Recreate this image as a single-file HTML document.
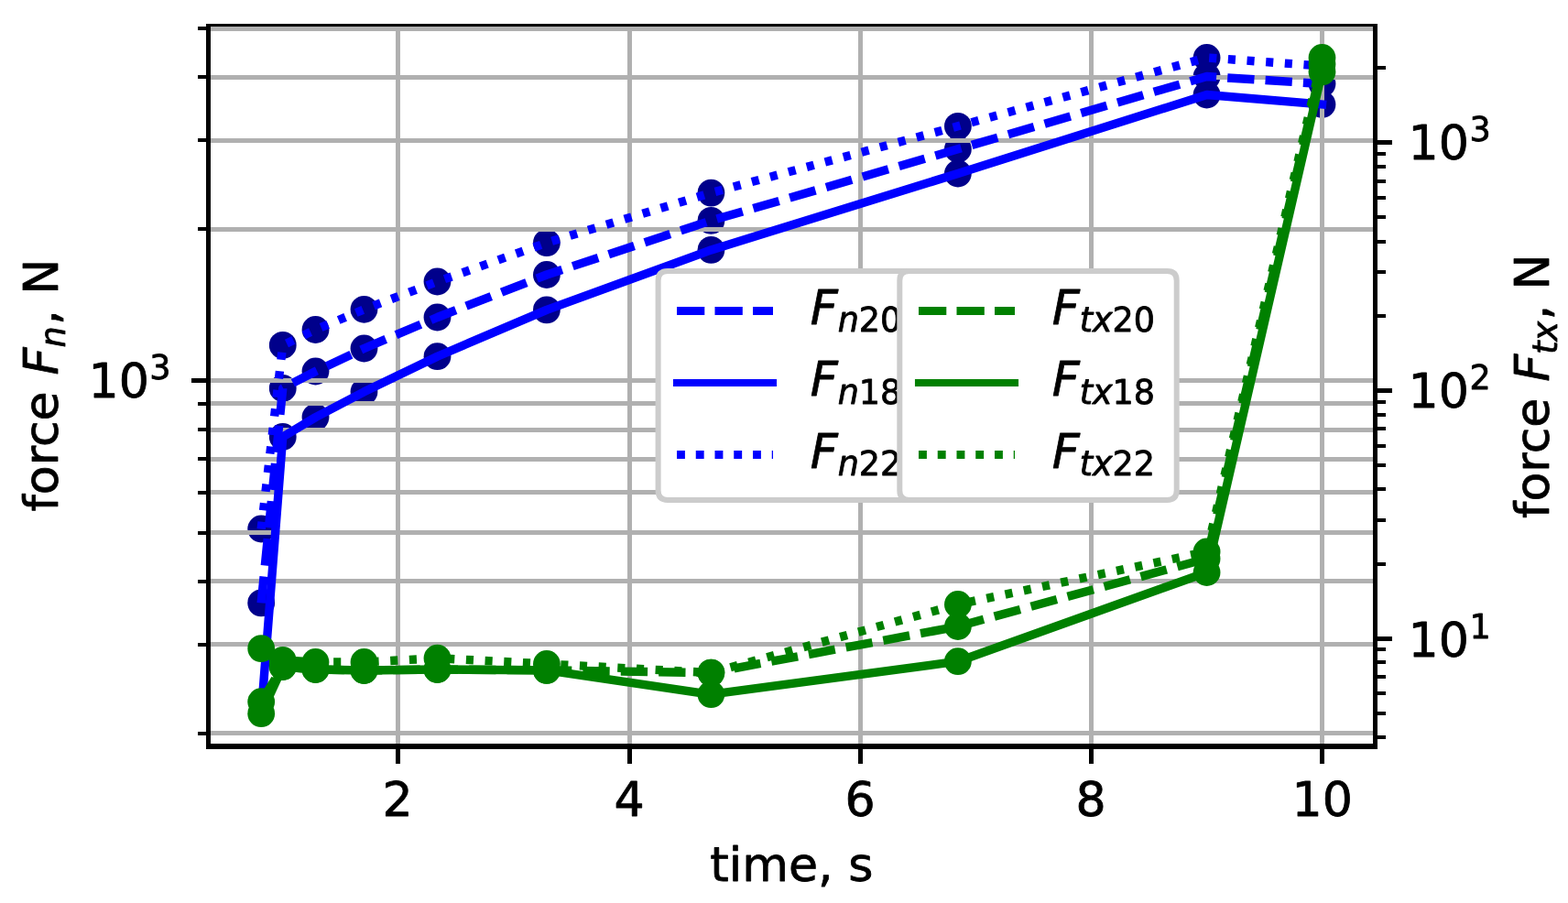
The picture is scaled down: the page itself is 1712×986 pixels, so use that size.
<!DOCTYPE html>
<html lang="en"><head><meta charset="utf-8"><title>force vs time</title>
<style>html,body{margin:0;padding:0;background:#fff;}body{width:1712px;height:986px;overflow:hidden;}svg{display:block;}</style>
</head><body>
<svg width="1712" height="986" viewBox="0 0 1712 986" role="img" aria-label="force versus time chart" font-family="'DejaVu Sans', 'Liberation Sans', sans-serif" font-size="52.15">
<defs><clipPath id="axclip"><rect x="227.5" y="28.5" width="1274" height="786.5"/></clipPath></defs>
<rect width="1712" height="986" fill="#ffffff"/>
<g clip-path="url(#axclip)">
<g fill="#00008b"><circle cx="285.20" cy="658.40" r="14.9"/><circle cx="308.75" cy="423.90" r="14.9"/><circle cx="344.50" cy="405.50" r="14.9"/><circle cx="397.50" cy="380.50" r="14.9"/><circle cx="477.50" cy="346.50" r="14.9"/><circle cx="596.90" cy="300.00" r="14.9"/><circle cx="776.40" cy="240.90" r="14.9"/><circle cx="1045.90" cy="162.80" r="14.9"/><circle cx="1317.60" cy="83.50" r="14.9"/><circle cx="1443.50" cy="91.50" r="14.9"/></g>
<g fill="#00008b"><circle cx="285.20" cy="779.20" r="14.0"/><circle cx="308.75" cy="477.00" r="14.9"/><circle cx="344.50" cy="455.60" r="14.9"/><circle cx="397.50" cy="427.80" r="14.9"/><circle cx="477.50" cy="389.20" r="14.9"/><circle cx="596.90" cy="338.40" r="14.9"/><circle cx="776.40" cy="272.90" r="14.9"/><circle cx="1045.90" cy="189.50" r="14.9"/><circle cx="1317.60" cy="103.50" r="14.9"/><circle cx="1443.50" cy="114.00" r="14.9"/></g>
<g fill="#00008b"><circle cx="285.20" cy="577.50" r="14.9"/><circle cx="308.75" cy="376.90" r="14.9"/><circle cx="344.50" cy="360.00" r="14.9"/><circle cx="397.50" cy="337.80" r="14.9"/><circle cx="477.50" cy="307.50" r="14.9"/><circle cx="596.90" cy="265.10" r="14.9"/><circle cx="776.40" cy="210.60" r="14.9"/><circle cx="1045.90" cy="137.80" r="14.9"/><circle cx="1317.60" cy="63.00" r="14.9"/><circle cx="1443.50" cy="72.00" r="14.0"/></g>
<g fill="#b0b0b0" shape-rendering="crispEdges">
<rect x="432" y="28.5" width="5" height="786.5"/>
<rect x="685" y="28.5" width="5" height="786.5"/>
<rect x="937" y="28.5" width="5" height="786.5"/>
<rect x="1189" y="28.5" width="5" height="786.5"/>
<rect x="1441" y="28.5" width="5" height="786.5"/>
<rect x="227.5" y="798" width="1274.0" height="5"/>
<rect x="227.5" y="701" width="1274.0" height="5"/>
<rect x="227.5" y="632" width="1274.0" height="5"/>
<rect x="227.5" y="579" width="1274.0" height="5"/>
<rect x="227.5" y="535" width="1274.0" height="5"/>
<rect x="227.5" y="499" width="1274.0" height="5"/>
<rect x="227.5" y="467" width="1274.0" height="5"/>
<rect x="227.5" y="438" width="1274.0" height="5"/>
<rect x="227.5" y="413" width="1274.0" height="5"/>
<rect x="227.5" y="248" width="1274.0" height="5"/>
<rect x="227.5" y="151" width="1274.0" height="5"/>
<rect x="227.5" y="82" width="1274.0" height="5"/>
<rect x="227.5" y="29" width="1274.0" height="5"/>
</g>
<polyline points="285.20,658.40 308.75,423.90 344.50,405.50 397.50,380.50 477.50,346.50 596.90,300.00 776.40,240.90 1045.90,162.80 1317.60,83.50 1443.50,91.50" fill="none" stroke="#0000ff" stroke-width="9.4" stroke-linejoin="round" stroke-dasharray="29.31,12.10" stroke-dashoffset="0.3" stroke-linecap="butt"/>
<polyline points="285.20,779.20 308.75,477.00 344.50,455.60 397.50,427.80 477.50,389.20 596.90,338.40 776.40,272.90 1045.90,189.50 1317.60,103.50 1443.50,114.00" fill="none" stroke="#0000ff" stroke-width="9.4" stroke-linejoin="round" stroke-linecap="square"/>
<polyline points="285.20,577.50 308.75,376.90 344.50,360.00 397.50,337.80 477.50,307.50 596.90,265.10 776.40,210.60 1045.90,137.80 1317.60,63.00 1443.50,72.00" fill="none" stroke="#0000ff" stroke-width="9.4" stroke-linejoin="round" stroke-dasharray="8.11,12.59" stroke-dashoffset="0.3" stroke-linecap="butt"/>
</g>
<path d="M729.00,296.1 L999.60,296.1 Q1010.0,296.1 1010.0,306.50 L1010.0,535.50 Q1010.0,545.9 999.60,545.9 L729.00,545.9 Q718.6,545.9 718.6,535.50 L718.6,306.50 Q718.6,296.1 729.00,296.1 Z" fill="#ffffff" stroke="#cccccc" stroke-width="6.0" stroke-linejoin="miter"/>
<line x1="739.0" y1="339.4" x2="844.0" y2="339.4" stroke="#0000ff" stroke-width="9.0" stroke-dasharray="30.3,11.2"/>
<polyline points="739.00,418.00 844.00,418.00" fill="none" stroke="#0000ff" stroke-width="8.1" stroke-linejoin="round" stroke-linecap="square"/>
<line x1="739.0" y1="496.5" x2="844.0" y2="496.5" stroke="#0000ff" stroke-width="9.0" stroke-dasharray="8.9,11.85"/>
<g fill="#000000" stroke="#000000" stroke-width="0.8" stroke-linejoin="round">
<text transform="translate(884.70,353.50)"><tspan x="0.00" y="0.00" font-style="italic">F</tspan><tspan x="30.00" y="8.56" font-size="36.50" font-style="italic">n</tspan><tspan x="53.13" y="8.56" font-size="36.50">20</tspan></text>
<text transform="translate(884.70,432.10)"><tspan x="0.00" y="0.00" font-style="italic">F</tspan><tspan x="30.00" y="8.56" font-size="36.50" font-style="italic">n</tspan><tspan x="53.13" y="8.56" font-size="36.50">18</tspan></text>
<text transform="translate(884.70,510.60)"><tspan x="0.00" y="0.00" font-style="italic">F</tspan><tspan x="30.00" y="8.56" font-size="36.50" font-style="italic">n</tspan><tspan x="53.13" y="8.56" font-size="36.50">22</tspan></text>
</g>
<g clip-path="url(#axclip)">
<g fill="#008000"><circle cx="285.20" cy="766.25" r="14.9"/><circle cx="308.75" cy="728.00" r="14.9"/><circle cx="344.50" cy="731.00" r="14.9"/><circle cx="397.50" cy="732.00" r="14.9"/><circle cx="477.50" cy="731.00" r="14.9"/><circle cx="596.90" cy="731.90" r="14.9"/><circle cx="776.40" cy="734.60" r="14.9"/><circle cx="1045.90" cy="684.00" r="14.9"/><circle cx="1317.60" cy="610.00" r="14.9"/><circle cx="1443.50" cy="70.00" r="14.9"/></g>
<g fill="#008000"><circle cx="285.20" cy="779.20" r="14.9"/><circle cx="308.75" cy="728.00" r="14.9"/><circle cx="344.50" cy="731.00" r="14.9"/><circle cx="397.50" cy="732.00" r="14.9"/><circle cx="477.50" cy="731.00" r="14.9"/><circle cx="596.90" cy="731.90" r="14.9"/><circle cx="776.40" cy="758.20" r="14.9"/><circle cx="1045.90" cy="722.20" r="14.9"/><circle cx="1317.60" cy="625.00" r="14.9"/><circle cx="1443.50" cy="78.40" r="14.9"/></g>
<g fill="#008000"><circle cx="285.20" cy="708.10" r="14.9"/><circle cx="308.75" cy="721.00" r="14.9"/><circle cx="344.50" cy="723.00" r="14.9"/><circle cx="397.50" cy="723.00" r="14.9"/><circle cx="477.50" cy="718.75" r="14.9"/><circle cx="596.90" cy="725.00" r="14.9"/><circle cx="776.40" cy="734.60" r="14.9"/><circle cx="1045.90" cy="660.00" r="14.9"/><circle cx="1317.60" cy="602.50" r="14.9"/><circle cx="1443.50" cy="63.00" r="14.9"/></g>
<polyline points="285.20,766.25 308.75,728.00 344.50,731.00 397.50,732.00 477.50,731.00 596.90,731.90 776.40,734.60 1045.90,684.00 1317.60,610.00 1443.50,70.00" fill="none" stroke="#008000" stroke-width="9.4" stroke-linejoin="round" stroke-dasharray="29.31,12.10" stroke-dashoffset="0.0" stroke-linecap="butt"/>
<polyline points="285.20,779.20 308.75,728.00 344.50,731.00 397.50,732.00 477.50,731.00 596.90,731.90 776.40,758.20 1045.90,722.20 1317.60,625.00 1443.50,78.40" fill="none" stroke="#008000" stroke-width="9.4" stroke-linejoin="round" stroke-linecap="square"/>
<polyline points="285.20,708.10 308.75,721.00 344.50,723.00 397.50,723.00 477.50,718.75 596.90,725.00 776.40,734.60 1045.90,660.00 1317.60,602.50 1443.50,63.00" fill="none" stroke="#008000" stroke-width="9.4" stroke-linejoin="round" stroke-dasharray="8.11,12.59" stroke-dashoffset="0.5" stroke-linecap="butt"/>
</g>
<g fill="#000000" shape-rendering="crispEdges">
<rect x="225" y="26" width="5" height="792"/>
<rect x="1499" y="26" width="5" height="792"/>
<rect x="225" y="26" width="1279" height="3"/>
<rect x="225" y="812" width="1279" height="6"/>
<rect x="432" y="815" width="5" height="19"/>
<rect x="685" y="815" width="5" height="19"/>
<rect x="937" y="815" width="5" height="19"/>
<rect x="1189" y="815" width="5" height="19"/>
<rect x="1441" y="815" width="5" height="19"/>
<rect x="216" y="799" width="10" height="4"/>
<rect x="216" y="702" width="10" height="4"/>
<rect x="216" y="633" width="10" height="4"/>
<rect x="216" y="580" width="10" height="4"/>
<rect x="216" y="536" width="10" height="4"/>
<rect x="216" y="499" width="10" height="4"/>
<rect x="216" y="467" width="10" height="4"/>
<rect x="216" y="439" width="10" height="4"/>
<rect x="216" y="248" width="10" height="4"/>
<rect x="216" y="151" width="10" height="4"/>
<rect x="216" y="82" width="10" height="4"/>
<rect x="216" y="29" width="10" height="4"/>
<rect x="209" y="413" width="17" height="5"/>
<rect x="1503" y="803" width="10" height="4"/>
<rect x="1503" y="777" width="10" height="4"/>
<rect x="1503" y="755" width="10" height="4"/>
<rect x="1503" y="737" width="10" height="4"/>
<rect x="1503" y="721" width="10" height="4"/>
<rect x="1503" y="707" width="10" height="4"/>
<rect x="1503" y="695" width="17" height="5"/>
<rect x="1503" y="614" width="10" height="4"/>
<rect x="1503" y="566" width="10" height="4"/>
<rect x="1503" y="532" width="10" height="4"/>
<rect x="1503" y="506" width="10" height="4"/>
<rect x="1503" y="485" width="10" height="4"/>
<rect x="1503" y="466" width="10" height="4"/>
<rect x="1503" y="451" width="10" height="4"/>
<rect x="1503" y="437" width="10" height="4"/>
<rect x="1503" y="424" width="17" height="5"/>
<rect x="1503" y="343" width="10" height="4"/>
<rect x="1503" y="295" width="10" height="4"/>
<rect x="1503" y="262" width="10" height="4"/>
<rect x="1503" y="235" width="10" height="4"/>
<rect x="1503" y="214" width="10" height="4"/>
<rect x="1503" y="196" width="10" height="4"/>
<rect x="1503" y="180" width="10" height="4"/>
<rect x="1503" y="166" width="10" height="4"/>
<rect x="1503" y="153" width="17" height="5"/>
<rect x="1503" y="72" width="10" height="4"/>
</g>
<path d="M992.70,296.1 L1274.30,296.1 Q1284.7,296.1 1284.7,306.50 L1284.7,535.50 Q1284.7,545.9 1274.30,545.9 L992.70,545.9 Q982.3,545.9 982.3,535.50 L982.3,306.50 Q982.3,296.1 992.70,296.1 Z" fill="#ffffff" stroke="#cccccc" stroke-width="6.0" stroke-linejoin="miter"/>
<line x1="1003.0" y1="339.4" x2="1108.0" y2="339.4" stroke="#008000" stroke-width="9.0" stroke-dasharray="30.3,11.2"/>
<polyline points="1003.00,418.00 1108.00,418.00" fill="none" stroke="#008000" stroke-width="8.1" stroke-linejoin="round" stroke-linecap="square"/>
<line x1="1003.0" y1="496.5" x2="1108.0" y2="496.5" stroke="#008000" stroke-width="9.0" stroke-dasharray="8.9,11.85"/>
<g fill="#000000" stroke="#000000" stroke-width="0.8" stroke-linejoin="round">
<text x="434.00" y="891" text-anchor="middle">2</text>
<text x="687.00" y="891" text-anchor="middle">4</text>
<text x="939.00" y="891" text-anchor="middle">6</text>
<text x="1191.00" y="891" text-anchor="middle">8</text>
<text x="1443.80" y="891" text-anchor="middle">10</text>
<text x="864.3" y="961.6" text-anchor="middle">time, s</text>
<text transform="translate(96.50,434.20)"><tspan x="0.00" y="0.00">10</tspan><tspan x="66.86" y="-19.96" font-size="36.50">3</tspan></text>
<text transform="translate(1537.60,173.90)"><tspan x="0.00" y="0.00">10</tspan><tspan x="66.86" y="-19.96" font-size="36.50">3</tspan></text>
<text transform="translate(1537.60,444.90)"><tspan x="0.00" y="0.00">10</tspan><tspan x="66.86" y="-19.96" font-size="36.50">2</tspan></text>
<text transform="translate(1537.60,716.70)"><tspan x="0.00" y="0.00">10</tspan><tspan x="66.86" y="-19.96" font-size="36.50">1</tspan></text>
<text transform="translate(62.80,558.60) rotate(-90)"><tspan x="0.00" y="0.00">force </tspan><tspan x="149.04" y="0.00" font-style="italic">F</tspan><tspan x="179.04" y="8.56" font-size="36.50" font-style="italic">n</tspan><tspan x="203.60" y="0.00">, N</tspan></text>
<text transform="translate(1691.20,565.90) rotate(-90)"><tspan x="0.00" y="0.00">force </tspan><tspan x="149.04" y="0.00" font-style="italic">F</tspan><tspan x="179.04" y="8.56" font-size="36.50" font-style="italic">tx</tspan><tspan x="216.38" y="0.00">, N</tspan></text>
<text transform="translate(1148.70,353.50)"><tspan x="0.00" y="0.00" font-style="italic">F</tspan><tspan x="30.00" y="8.56" font-size="36.50" font-style="italic">tx</tspan><tspan x="65.91" y="8.56" font-size="36.50">20</tspan></text>
<text transform="translate(1148.70,432.10)"><tspan x="0.00" y="0.00" font-style="italic">F</tspan><tspan x="30.00" y="8.56" font-size="36.50" font-style="italic">tx</tspan><tspan x="65.91" y="8.56" font-size="36.50">18</tspan></text>
<text transform="translate(1148.70,510.60)"><tspan x="0.00" y="0.00" font-style="italic">F</tspan><tspan x="30.00" y="8.56" font-size="36.50" font-style="italic">tx</tspan><tspan x="65.91" y="8.56" font-size="36.50">22</tspan></text>
</g>
</svg>
</body></html>
